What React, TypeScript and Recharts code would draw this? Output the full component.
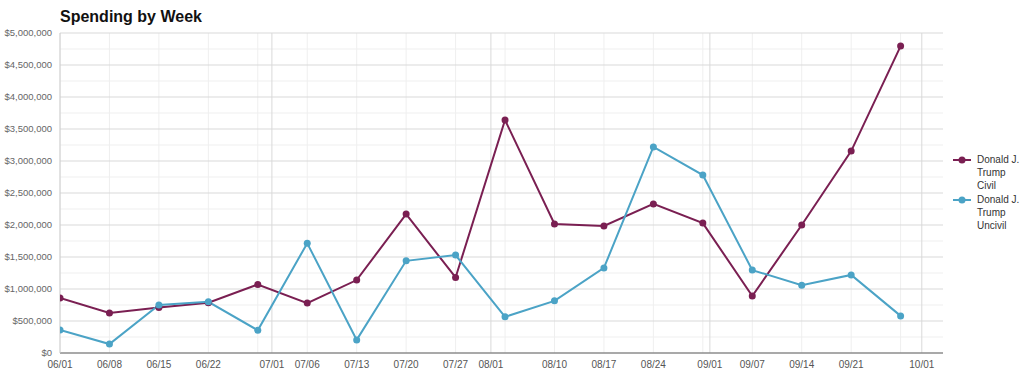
import {
  LineChart,
  Line,
  XAxis,
  YAxis,
  CartesianGrid,
} from 'recharts'

const YEAR = 2014
const weeks = ['06/01', '06/08', '06/15', '06/22', '06/29', '07/06', '07/13', '07/20', '07/27',
  '08/03', '08/10', '08/17', '08/24', '08/31', '09/07', '09/14', '09/21', '09/28']

const civil = [860000, 625000, 710000, 785000, 1070000, 780000, 1140000, 2170000, 1180000,
  3640000, 2015000, 1985000, 2330000, 2030000, 890000, 2000000, 3155000, 4795000]
const uncivil = [360000, 140000, 750000, 800000, 355000, 1715000, 205000, 1440000, 1530000,
  565000, 815000, 1330000, 3220000, 2780000, 1295000, 1060000, 1220000, 580000]

const tickLabels = ['06/01', '06/08', '06/15', '06/22', '07/01', '07/06', '07/13', '07/20', '07/27',
  '08/01', '08/10', '08/17', '08/24', '09/01', '09/07', '09/14', '09/21', '10/01']
const monthLines = ['07/01', '08/01', '09/01', '10/01']
const domainEnd = '10/04'

const yMajor = [0, 500000, 1000000, 1500000, 2000000, 2500000, 3000000, 3500000, 4000000, 4500000, 5000000]
const yMinor = [250000, 750000, 1250000, 1750000, 2250000, 2750000, 3250000, 3750000, 4250000, 4750000]

const CIVIL = '#7a1f52'
const UNCIVIL = '#4ba3c6'

const start = Date.UTC(YEAR, 5, 1)
const dayOf = (md: string) => {
  const [m, d] = md.split('/').map(Number)
  return Math.round((Date.UTC(YEAR, m - 1, d) - start) / 86400000)
}
const labelOf = (day: number) => {
  const dt = new Date(start + day * 86400000)
  return `${String(dt.getUTCMonth() + 1).padStart(2, '0')}/${String(dt.getUTCDate()).padStart(2, '0')}`
}

const data = weeks.map((w, i) => ({ day: dayOf(w), civil: civil[i], uncivil: uncivil[i] }))
const ticks = tickLabels.map(dayOf)
const weekDays = weeks.map(dayOf)
const monthDays = monthLines.map(dayOf)

const money = (v: number) => `$${v.toLocaleString('en-US')}`

const font = 'Arial, "Liberation Sans", sans-serif'

function LegendItem({ color, label }: { color: string; label: string }) {
  return (
    <div style={{ display: 'flex', alignItems: 'flex-start', marginBottom: 1 }}>
      <svg width={20} height={12} style={{ flexShrink: 0, marginTop: 1 }}>
        <line x1={1} y1={6} x2={19} y2={6} stroke={color} strokeWidth={2} />
        <circle cx={10} cy={6} r={3.5} fill={color} />
      </svg>
      <div style={{ width: 46, marginLeft: 5, lineHeight: '13px' }}>{label}</div>
    </div>
  )
}

export default function App() {
  return (
    <div style={{ position: 'absolute', left: 0, top: 0, width: 1024, height: 380, background: '#fff', fontFamily: font }}>
      <div style={{ position: 'absolute', left: 60, top: 8, fontSize: 16, fontWeight: 'bold', color: '#111' }}>
        Spending by Week
      </div>
      <LineChart
        width={1024}
        height={380}
        data={data}
        margin={{ top: 33, right: 81, bottom: 0, left: 0 }}
      >
        <CartesianGrid
          stroke="#efefef"
          horizontalValues={yMinor}
          verticalValues={weekDays}
        />
        <CartesianGrid
          stroke="#d9d9d9"
          horizontalValues={yMajor}
          verticalValues={monthDays}
        />
        <XAxis
          dataKey="day"
          type="number"
          domain={[0, dayOf(domainEnd)]}
          ticks={ticks}
          tickFormatter={labelOf}
          tickLine={false}
          axisLine={{ stroke: '#666' }}
          height={27}
          tick={{ fontSize: 10, fill: '#555', fontFamily: font }}
          interval={0}
          allowDataOverflow
        />
        <YAxis
          type="number"
          domain={[0, 5000000]}
          ticks={yMajor}
          tickFormatter={money}
          tickLine={false}
          axisLine={{ stroke: '#ccc' }}
          width={60}
          tick={{ fontSize: 9.5, fill: '#666', fontFamily: font }}
          interval={0}
        />
        <Line
          dataKey="civil"
          stroke={CIVIL}
          strokeWidth={2}
          dot={{ r: 3.5, fill: CIVIL, stroke: CIVIL, strokeWidth: 0 }}
          isAnimationActive={false}
        />
        <Line
          dataKey="uncivil"
          stroke={UNCIVIL}
          strokeWidth={2}
          dot={{ r: 3.5, fill: UNCIVIL, stroke: UNCIVIL, strokeWidth: 0 }}
          isAnimationActive={false}
        />
      </LineChart>
      <div style={{ position: 'absolute', left: 952, top: 153, fontSize: 10, color: '#333' }}>
        <LegendItem color={CIVIL} label="Donald J. Trump Civil" />
        <LegendItem color={UNCIVIL} label="Donald J. Trump Uncivil" />
      </div>
    </div>
  )
}
